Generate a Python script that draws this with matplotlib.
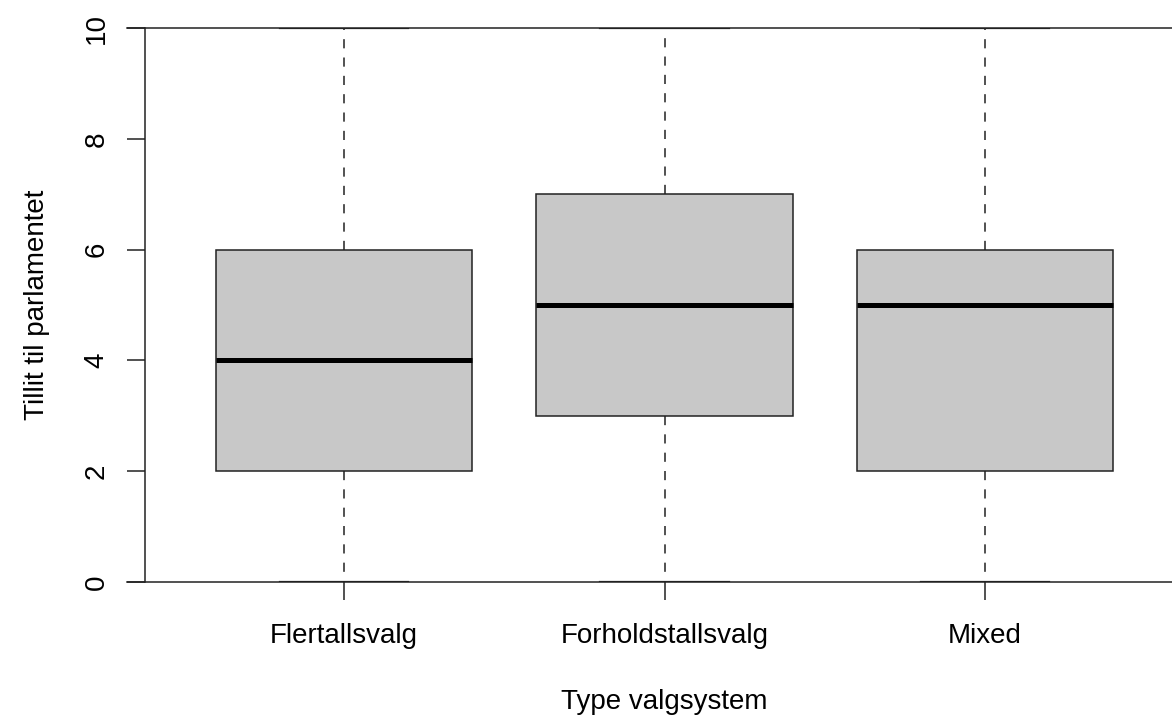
import matplotlib
matplotlib.use('Agg')
import matplotlib.pyplot as plt

plt.rcParams['font.family'] = ['Liberation Sans', 'DejaVu Sans']

# data
categories = ['Flertallsvalg', 'Forholdstallsvalg', 'Mixed']
whisker_low = [0, 0, 0]
q1 = [2, 3, 2]
medians = [4, 5, 5]
q3 = [6, 7, 6]
whisker_high = [10, 10, 10]
y_ticks = [0, 2, 4, 6, 8, 10]

stats = []
for lab, lo, a, m, b, hi in zip(categories, whisker_low, q1, medians, q3, whisker_high):
    stats.append({'label': lab, 'whislo': lo, 'q1': a, 'med': m, 'q3': b, 'whishi': hi, 'fliers': []})

W, H = 1172, 717
fig = plt.figure(figsize=(W / 100, H / 100), dpi=100)
# axes in pixel coords (right side runs past the figure edge, like the reference)
left, right, top, bottom = 145, 1184, 28, 582
ax = fig.add_axes([left / W, 1 - bottom / H, (right - left) / W, (bottom - top) / H])

fs = 20
ax.bxp(stats, positions=[1, 2, 3], widths=0.8, capwidths=0.4, patch_artist=True,
       showfliers=False,
       boxprops=dict(facecolor='#c8c8c8', edgecolor='#222222', linewidth=1.1),
       medianprops=dict(color='black', linewidth=3.6, solid_capstyle='butt'),
       whiskerprops=dict(color='#222222', linewidth=1.1, linestyle=(0, (6, 6))),
       capprops=dict(color='#222222', linewidth=1.6))

ax.set_xlim(0.38, 3.62)
ax.set_ylim(0, 10)

for s in ['top', 'right', 'bottom']:
    ax.spines[s].set_visible(False)
ax.spines['left'].set_linewidth(1.1)
ax.spines['left'].set_color('#222222')

# long horizontal lines at 0 and 10, starting left of the y axis
x0 = 0.38 - 18 / 320.5
for yv in [0, 10]:
    ax.plot([x0, 3.62], [yv, yv], color='#222222', linewidth=1.1, clip_on=False, zorder=0)

ax.set_yticks(y_ticks)
ax.set_yticklabels([str(v) for v in y_ticks], rotation=90, va='center', fontsize=fs)
ax.set_xticks([1, 2, 3])
ax.set_xticklabels(categories, fontsize=fs)
ax.tick_params(axis='both', direction='out', length=13, width=1.1, color='#222222')
ax.tick_params(axis='y', pad=12.5)
ax.tick_params(axis='x', pad=16.5)

ax.set_xlabel('Type valgsystem', fontsize=fs, labelpad=28.5)
ax.set_ylabel('Tillit til parlamentet', fontsize=fs, labelpad=24)

fig.savefig('out.png', dpi=100)
